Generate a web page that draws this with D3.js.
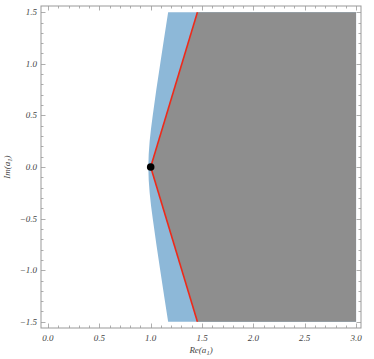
<!DOCTYPE html>
<html>
<head>
<meta charset="utf-8">
<script src="https://cdn.jsdelivr.net/npm/d3@7"></script>
<style>
  body { margin: 0; background: #fff; }
  svg text { font-family: "Liberation Serif", "DejaVu Serif", serif; font-style: italic; }
</style>
</head>
<body>
<div id="chart"></div>
<script>
// left edge of the blue region: [im, re]
var blue_edge = [
    [-1.5, 1.17], [-1.0, 1.093], [-0.5, 1.02], [-0.25, 0.99], [0.0, 0.977],
    [0.25, 0.99], [0.5, 1.02], [1.0, 1.093], [1.5, 1.17]
];
var region_right = 3.0;
var region_top = 1.5;
var region_bottom = -1.5;

// red lines: from the point out to the top / bottom
var red_lines = [
    [[1.0, 0.0], [1.455, 1.5]],
    [[1.0, 0.0], [1.455, -1.5]]
];
var point = [1.0, 0.0];

var x_ticks = [0.0, 0.5, 1.0, 1.5, 2.0, 2.5, 3.0];
var y_ticks = [-1.5, -1.0, -0.5, 0.0, 0.5, 1.0, 1.5];

var svg_size = { width: 374, height: 359 };
var frame = { left: 41, right: 361, top: 6, bottom: 328 };

var svg = d3.select('#chart').append('svg')
    .attr('width', svg_size.width)
    .attr('height', svg_size.height);

var x_scale = d3.scaleLinear().domain([-0.068, 3.048]).range([frame.left, frame.right]);
var y_scale = d3.scaleLinear().domain([-1.56, 1.56]).range([frame.bottom, frame.top]);

// blue region
var blue_area = [[region_right, region_bottom]]
    .concat(blue_edge.map(function(d){ return [d[1], d[0]]; }))
    .concat([[region_right, region_top]]);

var edge_line = d3.line()
    .x(function(d){ return x_scale(d[1]); })
    .y(function(d){ return y_scale(d[0]); })
    .curve(d3.curveMonotoneY);

var edge_path = edge_line(blue_edge);
svg.append('path')
    .attr('d', edge_path + 'L' + x_scale(region_right) + ',' + y_scale(region_top) +
        'L' + x_scale(region_right) + ',' + y_scale(region_bottom) + 'Z')
    .style('fill', '#8db8d8');

// gray region
var gray_pts = [
    red_lines[1][1], red_lines[0][0], red_lines[0][1],
    [region_right, region_top], [region_right, region_bottom]
];
svg.append('path')
    .attr('d', d3.line()
        .x(function(d){ return x_scale(d[0]); })
        .y(function(d){ return y_scale(d[1]); })(gray_pts) + 'Z')
    .style('fill', '#8e8e8e');

// red lines
svg.selectAll('.red-line')
    .data(red_lines)
    .enter()
    .append('line')
    .classed('red-line', true)
    .attr('x1', function(d){ return x_scale(d[0][0]); })
    .attr('y1', function(d){ return y_scale(d[0][1]); })
    .attr('x2', function(d){ return x_scale(d[1][0]); })
    .attr('y2', function(d){ return y_scale(d[1][1]); })
    .style('stroke', '#ee2a1a')
    .style('stroke-width', 1.6);

// point
svg.append('circle')
    .attr('cx', x_scale(point[0]))
    .attr('cy', y_scale(point[1]))
    .attr('r', 3.8)
    .style('fill', '#000');

// frame
var frame_color = '#999';
svg.append('rect')
    .attr('x', frame.left)
    .attr('y', frame.top)
    .attr('width', frame.right - frame.left)
    .attr('height', frame.bottom - frame.top)
    .style('fill', 'none')
    .style('stroke', frame_color)
    .style('stroke-width', 1);

function fmt(v){
    var s = v.toFixed(1);
    return v < 0 ? '\u2212' + s.slice(1) : s;
}

var x_minor = d3.range(0, 31).map(function(i){ return i / 10; });
var y_minor = d3.range(-15, 16).map(function(i){ return i / 10; });

function isMajor(v){ return Math.abs(v * 2 - Math.round(v * 2)) < 1e-6; }

var ticks_g = svg.append('g').style('stroke', frame_color).style('stroke-width', 0.8);

x_minor.forEach(function(v){
    var len = isMajor(v) ? 4.5 : 2.5;
    var x = Math.round(x_scale(v)) + 0.5;
    ticks_g.append('line').attr('x1', x).attr('x2', x)
        .attr('y1', frame.bottom).attr('y2', frame.bottom - len);
    ticks_g.append('line').attr('x1', x).attr('x2', x)
        .attr('y1', frame.top).attr('y2', frame.top + len);
});
y_minor.forEach(function(v){
    var len = isMajor(v) ? 4.5 : 2.5;
    var y = Math.round(y_scale(v)) + 0.5;
    ticks_g.append('line').attr('y1', y).attr('y2', y)
        .attr('x1', frame.left).attr('x2', frame.left + len);
    ticks_g.append('line').attr('y1', y).attr('y2', y)
        .attr('x1', frame.right).attr('x2', frame.right - len);
});

// tick labels
svg.selectAll('.x-label')
    .data(x_ticks)
    .enter()
    .append('text')
    .attr('x', function(d){ return x_scale(d); })
    .attr('y', frame.bottom + 13)
    .attr('text-anchor', 'middle')
    .style('font-size', '9px')
    .style('fill', '#444')
    .text(fmt);

svg.selectAll('.y-label')
    .data(y_ticks)
    .enter()
    .append('text')
    .attr('x', frame.left - 4)
    .attr('y', function(d){ return y_scale(d); })
    .attr('text-anchor', 'end')
    .attr('dominant-baseline', 'central')
    .style('font-size', '9px')
    .style('fill', '#444')
    .text(fmt);

// axis titles
var x_title = svg.append('text')
    .attr('x', (frame.left + frame.right) / 2)
    .attr('y', 353)
    .attr('text-anchor', 'middle')
    .style('font-size', '9px')
    .style('fill', '#444');
x_title.append('tspan').text('Re(a');
x_title.append('tspan').attr('dy', 2).style('font-size', '6.5px').text('1');
x_title.append('tspan').attr('dy', -2).text(')');

var y_title = svg.append('text')
    .attr('transform', 'translate(10,' + y_scale(0) + ') rotate(-90)')
    .attr('text-anchor', 'middle')
    .style('font-size', '9px')
    .style('fill', '#444');
y_title.append('tspan').text('Im(a');
y_title.append('tspan').attr('dy', 2).style('font-size', '6.5px').text('1');
y_title.append('tspan').attr('dy', -2).text(')');
</script>
</body>
</html>
